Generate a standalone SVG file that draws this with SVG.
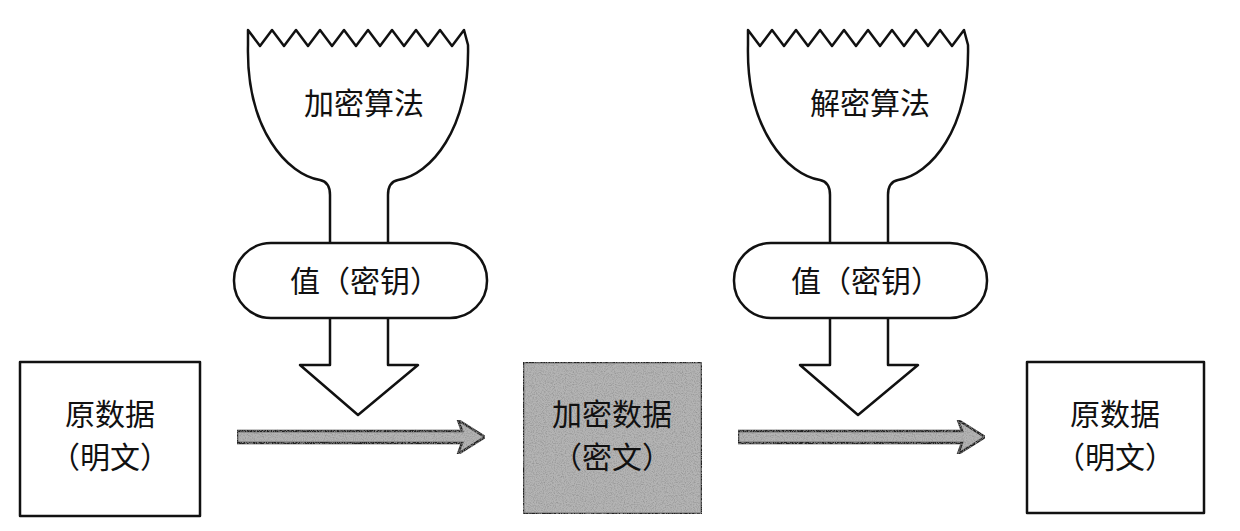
<svg xmlns="http://www.w3.org/2000/svg" width="1240" height="531" viewBox="0 0 1240 531">
<style>
.s{fill:#fff;stroke:#111;stroke-width:2.5;stroke-linejoin:round}
.t{font-family:"Noto Sans CJK SC","Noto Sans CJK JP",sans-serif;font-size:30px;fill:#111;text-anchor:middle}
.g{fill:#b4b4b4;stroke:#222;stroke-width:2.5}
</style>
<defs>
<filter id="n" x="0" y="0" width="1" height="1">
<feTurbulence type="fractalNoise" baseFrequency="0.9" numOctaves="2" seed="3" result="t"/>
<feColorMatrix in="t" type="matrix" values="0 0 0 0 0.3 0 0 0 0 0.3 0 0 0 0 0.3 0 0 0 -2.2 1.3" result="m"/>
<feComposite in="m" in2="SourceGraphic" operator="in" result="c"/>
<feMerge><feMergeNode in="SourceGraphic"/><feMergeNode in="c"/></feMerge>
</filter>
<g id="funnel">
<path class="s" d="M248,30 L260,46 L272,30 L284,46 L296,30 L308,46 L320,30 L332,46 L344,30 L356,46 L368,30 L380,46 L392,30 L404,46 L416,30 L428,46 L440,30 L452,46 L464,30 L468,45 C470,130 430,175 398,180 Q388,182 388,195 L388,250 L330,250 L330,195 Q330,182 320,180 C288,175 246,130 248,45 Z"/>
<path class="s" d="M330,310 L330,365 L300,365 L358,415 L418,365 L388,365 L388,310 Z"/>
<rect class="s" x="234" y="243" width="253" height="75" rx="37"/>
</g>
</defs>
<g id="encrypt-alg"><use href="#funnel"/><text class="t" x="364" y="114">加密算法</text><text class="t" x="365" y="292">值（密钥）</text></g>
<g id="decrypt-alg"><use href="#funnel" x="500"/><text class="t" x="870" y="114">解密算法</text><text class="t" x="866" y="292">值（密钥）</text></g>
<g id="plain1"><rect class="s" x="20" y="362" width="180" height="154"/><text class="t" x="110" y="425">原数据</text><text class="t" x="110" y="468">（明文）</text></g>
<g id="cipher"><rect class="g" x="523" y="362" width="179" height="152" filter="url(#n)"/><text class="t" x="612" y="425">加密数据</text><text class="t" x="612" y="468">（密文）</text></g>
<g id="plain2"><rect class="s" x="1027" y="362" width="177" height="151"/><text class="t" x="1115" y="425">原数据</text><text class="t" x="1115" y="468">（明文）</text></g>
<g id="connectors">
<path class="g" filter="url(#n)" d="M237,431 L462,431 L458,420 L485,437 L458,454 L462,443 L237,443 Z"/>
<path class="g" filter="url(#n)" d="M738,431 L962,431 L958,420 L985,437 L958,454 L962,443 L738,443 Z"/>
</g>
</svg>
